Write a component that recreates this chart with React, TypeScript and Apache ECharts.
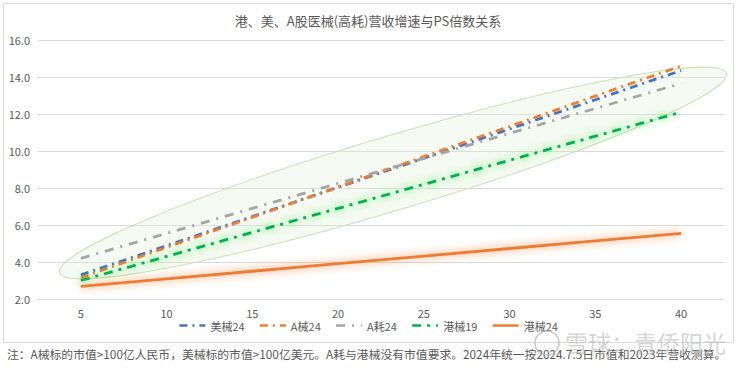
import React, { useEffect, useRef } from "react";
import * as echarts from "echarts";

const titleText = "港、美、A股医械(高耗)营收增速与PS倍数关系";
const noteText =
  "注：A械标的市值>100亿人民币，美械标的市值>100亿美元。A耗与港械没有市值要求。2024年统一按2024.7.5日市值和2023年营收测算。";
const xValues = [5, 10, 15, 20, 25, 30, 35, 40];
const seriesNames = ["美械24", "A械24", "A耗24", "港械19", "港械24"];
const us24 = [3.3, 4.88, 6.46, 8.04, 9.61, 11.19, 12.77, 14.35];
const a24 = [3.15, 4.79, 6.42, 8.06, 9.7, 11.33, 12.97, 14.6];
const aHao24 = [4.2, 5.55, 6.9, 8.25, 9.6, 10.95, 12.3, 13.65];
const hk19 = [3.0, 4.3, 5.6, 6.9, 8.2, 9.5, 10.8, 12.1];
const hk24 = [2.68, 3.09, 3.5, 3.91, 4.32, 4.73, 5.14, 5.55];
const yTicks = [2, 4, 6, 8, 10, 12, 14, 16];

const FONT = "'Noto Sans CJK SC', 'Noto Sans', sans-serif";
const GREY = "#595959";

function pairs(vals: number[]) {
  return xValues.map((x, i) => [x, vals[i]]);
}

export default function App() {
  const ref = useRef<HTMLDivElement>(null);
  useEffect(() => {
    document.body.style.margin = "0";
    const chart = echarts.init(ref.current!, null, { renderer: "svg" });
    const lineBase = (name: string, vals: number[], color: string, type: any, extra: any = {}) => ({
      name,
      type: "line",
      data: pairs(vals),
      symbol: "none",
      showSymbol: false,
      z: 3,
      itemStyle: { color },
      lineStyle: { color, width: 2.8, type, cap: "butt", ...extra },
    });
    chart.setOption({
      animation: false,
      backgroundColor: "#ffffff",
      textStyle: { fontFamily: FONT },
      title: {
        text: titleText,
        left: "center",
        top: 9,
        textStyle: { fontSize: 13, fontWeight: "normal", color: GREY, fontFamily: FONT },
      },
      legend: {
        bottom: 36,
        left: "center",
        itemWidth: 26,
        itemHeight: 10,
        itemGap: 14,
        data: seriesNames,
        itemStyle: { opacity: 0 },
        lineStyle: { width: 2.5 },
        textStyle: { fontSize: 11, color: GREY, fontFamily: FONT },
      },
      grid: { left: 38, right: 12, top: 40, bottom: 73 },
      xAxis: {
        type: "value",
        min: 2.5,
        max: 42.5,
        axisLine: { show: true, lineStyle: { color: "#D9D9D9" } },
        axisTick: { show: false },
        splitLine: { show: false },
        axisLabel: {
          customValues: xValues,
          color: GREY,
          fontSize: 11,
          margin: 8,
          fontFamily: FONT,
        },
      },
      yAxis: {
        type: "value",
        min: 2,
        max: 16,
        interval: 2,
        axisLine: { show: false },
        axisTick: { show: false },
        splitLine: { lineStyle: { color: "#D9D9D9", width: 1 } },
        axisLabel: {
          color: GREY,
          fontSize: 11,
          margin: 8,
          fontFamily: FONT,
          formatter: (v: number) => (yTicks.includes(v) ? v.toFixed(1) : ""),
        },
      },
      series: [
        lineBase(seriesNames[0], us24, "#4472C4", [8, 5, 2, 5]),
        lineBase(seriesNames[1], a24, "#ED7D31", [8, 5, 2, 5]),
        lineBase(seriesNames[2], aHao24, "#A5A5A5", [9, 7, 2, 7]),
        lineBase(seriesNames[3], hk19, "#00B050", [9, 6, 3, 6], {
          shadowBlur: 8,
          shadowColor: "rgba(0,230,0,0.85)",
        }),
        lineBase(seriesNames[4], hk24, "#ED7D31", "solid", {
          shadowBlur: 8,
          shadowColor: "rgba(245,130,50,0.9)",
        }),
      ],
      graphic: [
        {
          type: "rect",
          z: -10,
          silent: true,
          shape: { x: 3.5, y: 3.5, width: 730, height: 339 },
          style: { fill: "none", stroke: "#D9D9D9", lineWidth: 1 },
        },
        {
          type: "ellipse",
          z: 1,
          silent: true,
          x: 393,
          y: 173,
          rotation: 0.29,
          shape: { cx: 0, cy: 0, rx: 348, ry: 37 },
          style: { fill: "rgba(226,240,217,0.35)", stroke: "#C9E2B8", lineWidth: 1 },
        },
        {
          type: "text",
          z: 1,
          silent: true,
          left: 7,
          top: 348,
          style: { text: noteText, fontSize: 11.8, fill: GREY, fontFamily: FONT },
        },
        {
          type: "circle",
          z: 100,
          silent: true,
          shape: { cx: 547, cy: 343, r: 12 },
          style: { fill: "none", stroke: "rgba(180,180,180,0.7)", lineWidth: 1.5 },
        },
        {
          type: "text",
          z: 100,
          silent: true,
          left: 565,
          top: 330,
          style: {
            text: "雪球：青侨阳光",
            fontSize: 23,
            fill: "rgba(190,190,190,0.65)",
            fontFamily: FONT,
          },
        },
      ],
    });
    return () => chart.dispose();
  }, []);
  return (
    <div
      ref={ref}
      style={{ position: "fixed", left: 0, top: 0, width: 736, height: 372 }}
    />
  );
}
